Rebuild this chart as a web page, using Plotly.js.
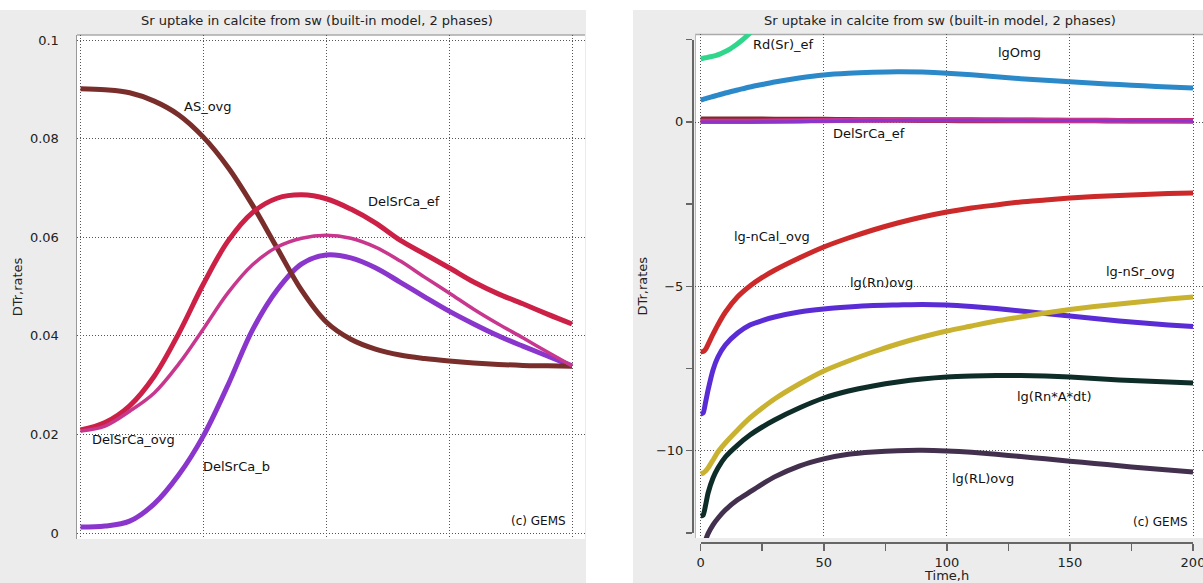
<!DOCTYPE html>
<html>
<head>
<meta charset="utf-8">
<script src="https://cdn.plot.ly/plotly-3.0.1.min.js"></script>
<style>html,body{margin:0;padding:0;background:#fff;}#chart{width:1203px;height:583px;}</style>
</head>
<body>
<div id="chart"></div>
<script>
// ---------- data ----------
const chartTitle = 'Sr uptake in calcite from sw (built-in model, 2 phases)';
const yTitle = 'DTr,rates';
const xTitle = 'Time,h';

// time grid (h)
const tLeft = [0,10,20,30,40,50,60,70,80,90,100,110,120,130,140,150,160,170,180,190,200];
const asOvg      = [0.0901,0.0899,0.0893,0.0876,0.0848,0.0803,0.0742,0.0665,0.0578,0.0492,0.0428,0.0393,0.0373,0.0361,0.0354,0.0349,0.0345,0.0342,0.0340,0.0339,0.0338];
const delSrCaEf  = [0.0209,0.0224,0.0258,0.0318,0.0405,0.0505,0.0592,0.0650,0.0679,0.0686,0.0678,0.0657,0.0629,0.0594,0.0566,0.0538,0.0509,0.0485,0.0465,0.0444,0.0424];
const delSrCaOvg = [0.0207,0.0217,0.0247,0.0284,0.0343,0.0414,0.0487,0.0544,0.0580,0.0598,0.0604,0.0598,0.0580,0.0552,0.0519,0.0487,0.0454,0.0424,0.0396,0.0367,0.0339];
const delSrCaB   = [0.0012,0.0014,0.0024,0.0059,0.0118,0.0197,0.0300,0.0412,0.0493,0.0546,0.0564,0.0558,0.0538,0.0509,0.0479,0.0450,0.0424,0.0400,0.0379,0.0359,0.0339];

const tGreen = [0,1,2,4,6,8,10,12,14,16,18,20,22,24];
const rdSrEf = [1.930,1.942,1.957,1.988,2.027,2.079,2.149,2.232,2.332,2.448,2.576,2.713,2.866,3.034];

const tRight = [0,1,2,3,5,7,10,15,20,25,30,40,50,60,70,80,90,100,110,120,130,140,150,160,170,180,190,200];
const lgOmg    = [0.671,0.692,0.713,0.735,0.777,0.820,0.884,0.976,1.067,1.143,1.220,1.341,1.433,1.485,1.516,1.532,1.522,1.490,1.440,1.378,1.322,1.272,1.225,1.182,1.140,1.102,1.068,1.037];
const lgNCalOvg= [-7.012,-7.00,-6.93,-6.78,-6.47,-6.18,-5.80,-5.33,-5.000,-4.740,-4.520,-4.146,-3.811,-3.537,-3.293,-3.079,-2.896,-2.744,-2.622,-2.530,-2.439,-2.378,-2.317,-2.271,-2.241,-2.210,-2.180,-2.165];
const lgRnOvg  = [-8.902,-8.872,-8.537,-8.171,-7.561,-7.165,-6.799,-6.433,-6.189,-6.052,-5.945,-5.793,-5.701,-5.640,-5.595,-5.579,-5.564,-5.579,-5.625,-5.686,-5.762,-5.838,-5.915,-5.991,-6.067,-6.128,-6.189,-6.235];
const lgNSrOvg = [-10.732,-10.701,-10.640,-10.549,-10.305,-10.061,-9.787,-9.390,-9.024,-8.720,-8.445,-7.988,-7.591,-7.287,-7.012,-6.768,-6.555,-6.372,-6.220,-6.067,-5.945,-5.823,-5.716,-5.625,-5.549,-5.473,-5.396,-5.335];
const lgRnAdt  = [-12.012,-11.982,-11.677,-11.311,-10.854,-10.549,-10.213,-9.848,-9.543,-9.299,-9.085,-8.720,-8.415,-8.201,-8.049,-7.927,-7.835,-7.774,-7.744,-7.729,-7.729,-7.744,-7.774,-7.820,-7.866,-7.896,-7.927,-7.957];
const lgRLOvg  = [-13.30,-13.02,-12.75,-12.55,-12.28,-12.08,-11.83,-11.52,-11.28,-11.04,-10.82,-10.49,-10.27,-10.13,-10.06,-10.02,-10.01,-10.03,-10.07,-10.13,-10.20,-10.27,-10.34,-10.41,-10.48,-10.55,-10.61,-10.67];

// tick labels
const yTickValsL = [0,0.02,0.04,0.06,0.08,0.1];
const yTickTextL = ['0','0.02','0.04','0.06','0.08','0.1'];
const xGridVals  = [0,50,100,150,200];
const xTickValsR = [0,25,50,75,100,125,150,175,200];
const xTickTextR = ['0','','50','','100','','150','','200'];
const yTickValsR = [2.5,0,-2.5,-5,-7.5,-10,-12.5];
const yTickTextR = ['','0','','\u22125','','\u221210',''];
const yGridValsR = [0,-5,-10];

// series labels drawn on the plots
const labelsLeft = [
  {text:'AS_ovg', t:51.9, v:0.0866},
  {text:'DelSrCa_ef', t:131.6, v:0.0673},
  {text:'DelSrCa_ovg', t:21.4, v:0.0189},
  {text:'DelSrCa_b', t:63.6, v:0.01345}
];
const labelsRight = [
  {text:'Rd(Sr)_ef', t:33.7, v:2.35},
  {text:'lgOmg', t:129.7, v:2.13},
  {text:'DelSrCa_ef', t:68.3, v:-0.345},
  {text:'lg-nCal_ovg', t:29.0, v:-3.476},
  {text:'lg(Rn)ovg', t:73.6, v:-4.878},
  {text:'lg-nSr_ovg', t:178.5, v:-4.543},
  {text:'lg(Rn*A*dt)', t:143.9, v:-8.354},
  {text:'lg(RL)ovg', t:114.7, v:-10.854}
];

// ---------- styling helpers ----------
const W = 1203, H = 583;
const px = v => v / W;
const py = v => 1 - v / H;
const FONT = 'DejaVu Sans, Noto Sans, sans-serif';
const col = {
  as:'#7a2e2b', ef:'#cc2046', ovg:'#c8378e', b:'#8a35cc',
  rd:'#30d68c', omg:'#2b89c9', ncal:'#cc2a2a', rn:'#5a2cd6', nsr:'#c9b22f', rnadt:'#0e2d29', rl:'#43304f'
};
function line(x, y, color, width, xa, ya, smooth) {
  return {
    type:'scatter', mode:'lines', x:x, y:y, xaxis:xa, yaxis:ya,
    line:{color:color, width:width, shape:'spline', smoothing:smooth},
    hoverinfo:'skip'
  };
}

const traces = [
  // left panel
  line(tLeft, delSrCaB, col.b, 5, 'x', 'y', 1),
  line(tLeft, asOvg, col.as, 5, 'x', 'y', 1),
  line(tLeft, delSrCaEf, col.ef, 5, 'x', 'y', 1),
  line(tLeft, delSrCaOvg, col.ovg, 3.5, 'x', 'y', 1),
  // right panel
  line(tGreen, rdSrEf, col.rd, 5, 'x2', 'y2', 0.8),
  line(tRight, lgOmg, col.omg, 5, 'x2', 'y2', 0.8),
  line(tLeft, asOvg, col.as, 5, 'x2', 'y2', 1),
  line(tLeft, delSrCaEf, col.ef, 5, 'x2', 'y2', 1),
  line(tLeft, delSrCaOvg, col.ovg, 5, 'x2', 'y2', 1),
  line(tLeft, delSrCaB, col.b, 3, 'x2', 'y2', 1),
  line(tRight, lgNCalOvg, col.ncal, 5, 'x2', 'y2', 0.6),
  line(tRight, lgRnOvg, col.rn, 5, 'x2', 'y2', 0.6),
  line(tRight, lgNSrOvg, col.nsr, 5, 'x2', 'y2', 0.6),
  line(tRight, lgRnAdt, col.rnadt, 5, 'x2', 'y2', 0.6),
  line(tRight, lgRLOvg, col.rl, 5, 'x2', 'y2', 0.6),
  // carrier for the detached axes of the right panel
  {type:'scatter', mode:'markers', x:[0,200], y:[-12.5,2.5], xaxis:'x3', yaxis:'y3',
   marker:{opacity:0, size:1}, hoverinfo:'skip'}
];

const gridStyle = {showgrid:true, gridcolor:'#555', gridwidth:1, griddash:'1px,2px', zeroline:false};
const tickFont = {family:FONT, size:13, color:'#222'};

const annotations = [];
[317, 940].forEach(cx => annotations.push({
  text: chartTitle, xref:'paper', yref:'paper', x:px(cx), y:py(21), showarrow:false,
  xanchor:'center', yanchor:'middle', font:{family:FONT, size:13, color:'#222'}
}));
labelsLeft.forEach(l => annotations.push({text:l.text, xref:'x', yref:'y', x:l.t, y:l.v, showarrow:false,
  xanchor:'center', yanchor:'middle', font:{family:FONT, size:13, color:'#111'}}));
labelsRight.forEach(l => annotations.push({text:l.text, xref:'x2', yref:'y2', x:l.t, y:l.v, showarrow:false,
  xanchor:'center', yanchor:'middle', font:{family:FONT, size:13, color:'#111'}}));
annotations.push({text:'(c) GEMS', xref:'x', yref:'y', x:198.4, y:0.0024, showarrow:false,
  xanchor:'right', yanchor:'middle', font:{family:FONT, size:12, color:'#111'}});
annotations.push({text:'(c) GEMS', xref:'x2', yref:'y2', x:198.8, y:-12.2, showarrow:false,
  xanchor:'right', yanchor:'middle', font:{family:FONT, size:12, color:'#111'}});
// x-axis title of the right panel (at the very bottom edge, as in the original)
annotations.push({text:xTitle, xref:'x3', yref:'paper', x:100, y:py(575.5), showarrow:false,
  xanchor:'center', yanchor:'middle', font:{family:FONT, size:13, color:'#222'}});

const shapes = [
  {type:'rect', layer:'below', xref:'paper', yref:'paper', x0:0, x1:px(586), y0:0, y1:py(10), fillcolor:'#ececec', line:{width:0}},
  {type:'rect', layer:'below', xref:'paper', yref:'paper', x0:px(633), x1:1, y0:0, y1:py(10), fillcolor:'#ececec', line:{width:0}},
  {type:'rect', layer:'below', xref:'paper', yref:'paper', x0:px(77), x1:px(585), y0:py(539), y1:py(35), fillcolor:'#ffffff', line:{width:0}},
  {type:'rect', layer:'below', xref:'paper', yref:'paper', x0:px(695), x1:1, y0:py(538), y1:py(34), fillcolor:'#ffffff', line:{width:0}},
  {type:'line', layer:'below', xref:'paper', yref:'paper', x0:px(77), x1:px(585), y0:py(35), y1:py(35), line:{color:'#aaaaaa', width:1.5}},
  {type:'line', layer:'below', xref:'paper', yref:'paper', x0:px(695), x1:1, y0:py(34.5), y1:py(34.5), line:{color:'#aaaaaa', width:1.5}},
  {type:'line', layer:'below', xref:'paper', yref:'paper', x0:px(695.5), x1:px(695.5), y0:py(538), y1:py(34), line:{color:'#bbbbbb', width:1}}
];

const layout = {
  width:W, height:H, margin:{l:0, r:0, t:0, b:0, autoexpand:false},
  paper_bgcolor:'#ffffff', plot_bgcolor:'rgba(0,0,0,0)', showlegend:false,
  font:{family:FONT, color:'#222'},
  xaxis: Object.assign({domain:[px(77), px(585)], range:[-1.424, 205.29], anchor:'y',
    tickvals:xGridVals, showticklabels:false, ticks:'', showline:false}, gridStyle),
  yaxis: Object.assign({domain:[py(539), py(35)], range:[-0.001217, 0.101014], anchor:'x',
    tickvals:yTickValsL, ticktext:yTickTextL, tickfont:tickFont, ticks:'', ticklabelstandoff:14,
    showline:true, linecolor:'#999999', linewidth:1.5,
    title:{text:yTitle, font:{family:FONT, size:13, color:'#222'}, standoff:4}}, gridStyle),
  xaxis2: Object.assign({domain:[px(695), 1], range:[-2.316, 204.06], anchor:'y2',
    tickvals:xGridVals, showticklabels:false, ticks:'', showline:false}, gridStyle),
  yaxis2: Object.assign({domain:[py(538), py(34)], range:[-12.683, 2.683], anchor:'x2',
    tickvals:yGridValsR, showticklabels:false, ticks:'', showline:false}, gridStyle),
  xaxis3: {domain:[px(700.7), px(1193)], range:[0,200], anchor:'free', position:py(542),
    tickvals:xTickValsR, ticktext:xTickTextR, tickfont:tickFont, ticks:'outside', ticklen:7, tickwidth:1.5, tickcolor:'#666',
    ticklabelstandoff:1, ticklabeloverflow:'allow',
    showline:true, linecolor:'#666', linewidth:1.5, showgrid:false, zeroline:false},
  yaxis3: {domain:[py(532.9), py(39.6)], range:[-12.5, 2.5], anchor:'free', position:px(692),
    tickvals:yTickValsR, ticktext:yTickTextR, tickfont:tickFont, ticks:'outside', ticklen:6, tickwidth:1.5, tickcolor:'#666',
    showline:true, linecolor:'#666', linewidth:1.5, showgrid:false, zeroline:false,
    title:{text:yTitle, font:{family:FONT, size:13, color:'#222'}, standoff:4}},
  annotations: annotations,
  shapes: shapes
};

Plotly.newPlot('chart', traces, layout, {staticPlot:true, displayModeBar:false});
</script>
</body>
</html>
